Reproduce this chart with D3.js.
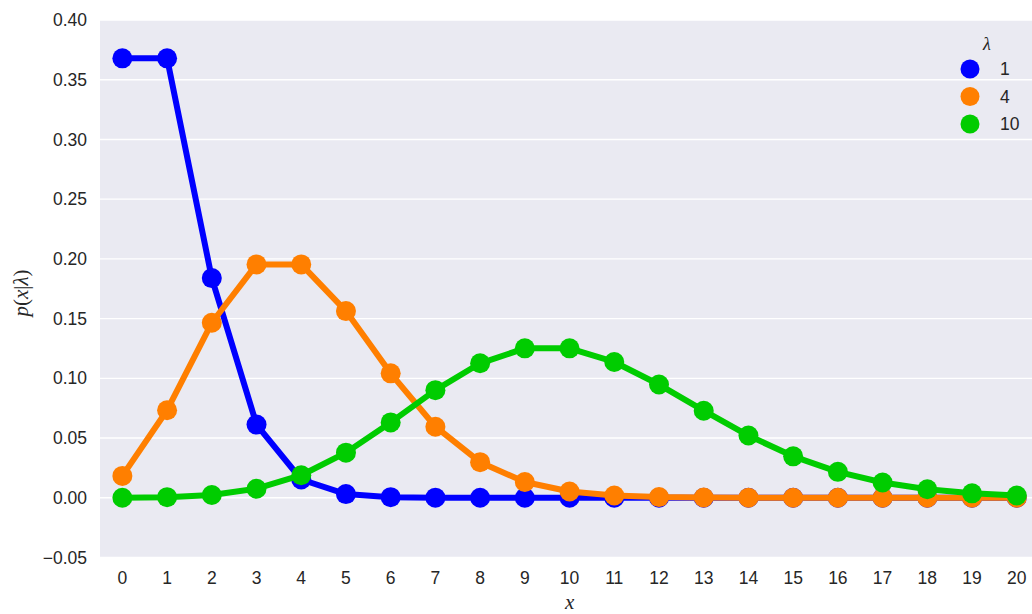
<!DOCTYPE html>
<html>
<head>
<meta charset="utf-8">
<script src="https://cdn.jsdelivr.net/npm/d3@7"></script>
<style>
  body { margin: 0; background: #fff; }
  text { font-family: "Liberation Sans", Arial, sans-serif; }
  .math { font-family: "Liberation Serif", "DejaVu Serif", serif; }
</style>
</head>
<body>
<svg id="chart" width="1032" height="614"></svg>
<script>
// values (Poisson pmf for three rates)
const xs = ['0','1','2','3','4','5','6','7','8','9','10','11','12','13','14','15','16','17','18','19','20']
const lambdas = ['1', '4', '10']
const p1 = [0.3679, 0.3679, 0.1839, 0.0613, 0.0153, 0.0031, 0.0005, 0.0001, 0, 0, 0, 0, 0, 0, 0, 0, 0, 0, 0, 0, 0]
const p4 = [0.0183, 0.0733, 0.1465, 0.1954, 0.1954, 0.1563, 0.1042, 0.0595, 0.0298, 0.0132, 0.0053, 0.0019, 0.0006, 0.0002, 0.0001, 0, 0, 0, 0, 0, 0]
const p10 = [0.0000, 0.0005, 0.0023, 0.0076, 0.0189, 0.0378, 0.0631, 0.0901, 0.1126, 0.1251, 0.1251, 0.1137, 0.0948, 0.0729, 0.0521, 0.0347, 0.0217, 0.0128, 0.0071, 0.0037, 0.0019]
const yTicks = [-0.05, 0, 0.05, 0.10, 0.15, 0.20, 0.25, 0.30, 0.35, 0.40]
const colors = ['#0000ff', '#ff7f00', '#00cc00']

function draw() {
  const svg = d3.select('#chart')
  svg.selectAll('*').remove()

  const left = 100, top = 20, bottom = 557.5
  const step = 44.72
  const right = left + step * xs.length

  const x = d3.scalePoint()
    .domain(xs)
    .range([left, right])
    .padding(0.5)

  const y = d3.scaleLinear()
    .domain([-0.05, 0.40])
    .range([bottom, top])

  svg.append('rect')
    .attr('x', left)
    .attr('y', top)
    .attr('width', right - left)
    .attr('height', bottom - top)
    .attr('fill', '#eaeaf2')

  // grid
  svg.append('g')
    .selectAll('line')
    .data(yTicks)
    .join('line')
    .attr('x1', left)
    .attr('x2', right)
    .attr('y1', d => y(d))
    .attr('y2', d => y(d))
    .attr('stroke', '#fff')
    .attr('stroke-width', 1.4)

  // y ticks
  svg.append('g')
    .selectAll('text')
    .data(yTicks)
    .join('text')
    .attr('x', 87)
    .attr('y', d => y(d))
    .attr('dy', '0.35em')
    .attr('text-anchor', 'end')
    .attr('font-size', 17.5)
    .attr('fill', '#262626')
    .text(d => d3.format('.2f')(d).replace('-', '\u2212'))

  // x ticks
  svg.append('g')
    .selectAll('text')
    .data(xs)
    .join('text')
    .attr('x', d => x(d))
    .attr('y', 584)
    .attr('text-anchor', 'middle')
    .attr('font-size', 17.5)
    .attr('fill', '#262626')
    .text(d => d)

  const series = [p1, p4, p10]
  const line = d3.line()
    .x((d, i) => x(xs[i]))
    .y(d => y(d))

  series.forEach((vals, k) => {
    const g = svg.append('g')
    g.append('path')
      .attr('d', line(vals))
      .attr('fill', 'none')
      .attr('stroke', colors[k])
      .attr('stroke-width', 6)
      .attr('stroke-linejoin', 'round')
    g.selectAll('circle')
      .data(vals)
      .join('circle')
      .attr('cx', (d, i) => x(xs[i]))
      .attr('cy', d => y(d))
      .attr('r', 10)
      .attr('fill', colors[k])
  })

  // axis labels
  svg.append('text')
    .attr('class', 'math')
    .attr('x', x('10'))
    .attr('y', 609)
    .attr('text-anchor', 'middle')
    .attr('font-size', 21)
    .attr('font-style', 'italic')
    .attr('fill', '#262626')
    .text('x')

  const yl = svg.append('text')
    .attr('class', 'math')
    .attr('transform', `translate(28, 293) rotate(-90)`)
    .attr('text-anchor', 'middle')
    .attr('font-size', 21)
    .attr('fill', '#262626')
  yl.append('tspan').attr('font-style', 'italic').text('p')
  yl.append('tspan').text('(')
  yl.append('tspan').attr('font-style', 'italic').text('x')
  yl.append('tspan').text('|')
  yl.append('tspan').attr('font-style', 'italic').text('λ')
  yl.append('tspan').text(')')

  // legend
  const leg = svg.append('g')
  leg.append('text')
    .attr('class', 'math')
    .attr('x', 987)
    .attr('y', 50)
    .attr('text-anchor', 'middle')
    .attr('font-size', 18)
    .attr('font-style', 'italic')
    .attr('fill', '#262626')
    .text('λ')
  const items = leg.selectAll('g.item')
    .data(lambdas)
    .join('g')
    .attr('class', 'item')
    .attr('transform', (d, i) => `translate(0, ${69 + i * 27.5})`)
  items.append('circle')
    .attr('cx', 970)
    .attr('cy', 0)
    .attr('r', 9.5)
    .attr('fill', (d, i) => colors[i])
  items.append('text')
    .attr('x', 1000)
    .attr('y', 0)
    .attr('dy', '0.35em')
    .attr('font-size', 17.5)
    .attr('fill', '#262626')
    .text(d => d)
}

document.addEventListener('DOMContentLoaded', draw, false)
</script>
</body>
</html>
